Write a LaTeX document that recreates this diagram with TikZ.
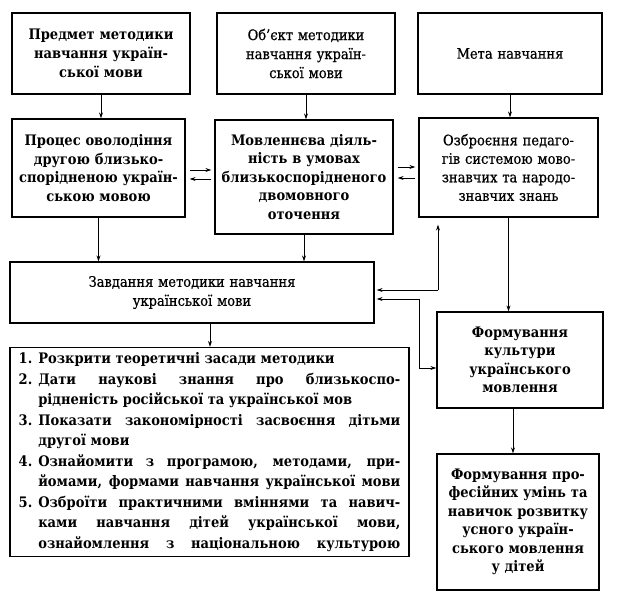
\documentclass[tikz,border=0pt]{standalone}
\usepackage{fontspec}
\setmainfont{DejaVu Serif}[FakeStretch=0.9]
\newfontfamily\medfont{DejaVu Serif}[FakeStretch=0.9, FakeBold=0.6]
\usetikzlibrary{arrows.meta,calc}
\newlength\jlw
\setlength\jlw{362pt}
\newcommand\jline[1]{\makebox[\jlw][s]{#1}}
\newcommand\fsa{\fontsize{14.5}{19}\selectfont}
\newcommand\fsb{\fontsize{14.5}{18.5}\selectfont}
\begin{document}
\begin{tikzpicture}[x=1pt,y=-1pt,
  box/.style={draw, line width=1.2pt, inner sep=2pt, align=center},
  arr/.style={-{Stealth[length=6pt,width=4pt]}, line width=0.9pt},
]
\useasboundingbox (0,0) rectangle (619,599);
% top row
\node[box, minimum width=178pt, minimum height=81pt, text width=172pt, font=\fsa\bfseries] (b1) at (101,53.5)
  {Предмет методики\\ навчання україн-\\ ської мови};
\node[box, minimum width=178pt, minimum height=81pt, text width=172pt, font=\medfont\fsa] (b2) at (306,53.5)
  {Об’єкт методики\\ навчання україн-\\ ської мови};
\node[box, minimum width=184pt, minimum height=81pt, text width=178pt, font=\medfont\fsa] (b3) at (510,53.5)
  {Мета навчання};
% second row
\node[box, minimum width=173pt, minimum height=98pt, text width=167pt, font=\fsb\bfseries] (b4) at (98.5,168)
  {Процес оволодіння\\ другою близько-\\ спорідненою україн-\\ ською мовою};
\node[box, minimum width=178pt, minimum height=114pt, text width=172pt, font=\fsb\bfseries] (b5) at (304,177)
  {Мовленнєва діяль-\\ ність в умовах\\ близькоспорідненого\\ двомовного\\ оточення};
\node[box, minimum width=179pt, minimum height=99pt, text width=173pt, font=\medfont\fsb] (b6) at (508.5,167.5)
  {Озброєння педаго-\\ гів системою мово-\\ знавчих та народо-\\ знавчих знань};
% tasks
\node[box, minimum width=364pt, minimum height=61pt, text width=358pt, font=\medfont\fsa] (zav) at (192,292.5)
  {Завдання методики навчання\\ української мови};
\node[box, minimum width=399pt, minimum height=200pt, align=left, font=\fontsize{14.5}{20.5}\selectfont\bfseries] (lst) at (209.5,452)
  {\begin{tabular}{@{}r@{\hspace{6pt}}l@{}}
   1. & Розкрити теоретичні засади методики\\
   2. & \jline{Дати наукові знання про близькоспо-}\\
      & рідненість російської та української мов\\
   3. & \jline{Показати закономірності засвоєння дітьми}\\
      & другої мови\\
   4. & \jline{Ознайомити з програмою, методами, при-}\\
      & \jline{йомами, формами навчання української мови}\\
   5. & \jline{Озброїти практичними вміннями та навич-}\\
      & \jline{ками навчання дітей української мови,}\\
      & \jline{ознайомлення з національною культурою}
   \end{tabular}};
% right column
\node[box, minimum width=166pt, minimum height=96pt, text width=160pt, font=\fsb\bfseries] (kult) at (520,360)
  {Формування\\ культури\\ українського\\ мовлення};
\node[box, minimum width=162pt, minimum height=136pt, text width=156pt, font=\fsb\bfseries] (last) at (518,522)
  {Формування про-\\ фесійних умінь та\\ навичок розвитку\\ усного україн-\\ ського мовлення\\ у дітей};
% helper coordinates
\coordinate (p1) at (0,170);
\coordinate (p2) at (0,179);
\coordinate (p3) at (0,167);
\coordinate (p4) at (0,178);
\coordinate (v6) at (210,0);
\coordinate (v7) at (513,0);
\coordinate (j1) at (438,290);
\coordinate (j2) at (419,299);
\coordinate (j3) at (419,368);
% vertical arrows
\draw[arr] (b1.south) -- (b1.south |- b4.north);
\draw[arr] (b2.south) -- (b2.south |- b5.north);
\draw[arr] (b3.south) -- (b3.south |- b6.north);
\draw[arr] (b4.south) -- (b4.south |- zav.north);
\draw[arr] (b5.south) -- (b5.south |- zav.north);
\draw[arr] (zav.south -| v6) -- (lst.north -| v6);
\draw[arr] (b6.south) -- (b6.south |- kult.north);
\draw[arr] (kult.south -| v7) -- (last.north -| v7);
% double arrows
\draw[arr] ($(b4.east|-p1)+(4,0)$) -- ($(b5.west|-p1)+(-3,0)$);
\draw[arr] ($(b5.west|-p2)+(-3,0)$) -- ($(b4.east|-p2)+(4,0)$);
\draw[arr] ($(b5.east|-p3)+(4,0)$) -- ($(b6.west|-p3)+(-3,0)$);
\draw[arr] ($(b6.west|-p4)+(-3,0)$) -- ($(b5.east|-p4)+(4,0)$);
% right-side connections
\draw[arr, shorten >=2pt] (j1) -- (zav.east |- j1);
\draw[arr, shorten >=7pt] (j1) -- (j1 |- b6.south);
\draw[arr, shorten >=2pt] (j2) -- (zav.east |- j2);
\draw[arr] (j2) -- (j3) -- (kult.west |- j3);
\end{tikzpicture}
\end{document}
